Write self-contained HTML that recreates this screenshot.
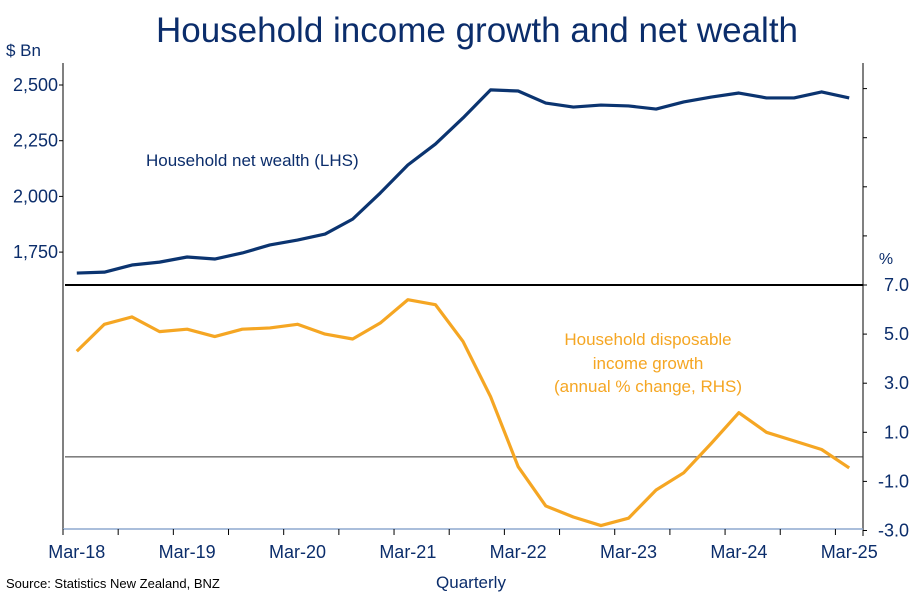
<!DOCTYPE html>
<html><head><meta charset="utf-8"><style>
body{margin:0;background:#fff;}
svg text{font-family:"Liberation Sans",sans-serif;}
</style></head><body>
<svg id="chart" width="915" height="597" viewBox="0 0 915 597">
<text x="477" y="42" text-anchor="middle" font-size="35" fill="#0b2d6b">Household income growth and net wealth</text>
<text x="6" y="56" font-size="17" fill="#0b2d6b">$ Bn</text>
<text x="886" y="264" text-anchor="middle" font-size="16" fill="#0b2d6b">%</text>
<g id="axes"></g>
<g id="marks"></g>
<text x="146" y="166" font-size="17" fill="#0b2d6b">Household net wealth (LHS)</text>
<g fill="#f5a623" font-size="17" text-anchor="middle">
<text x="648" y="345">Household disposable</text>
<text x="648" y="369">income growth</text>
<text x="648" y="392">(annual % change, RHS)</text>
</g>
<text x="6" y="588" font-size="13" fill="#000">Source: Statistics New Zealand, BNZ</text>
<text x="471" y="588" text-anchor="middle" font-size="17" fill="#0b2d6b">Quarterly</text>
</svg>
<script>
const quarters=["Mar-18","Jun-18","Sep-18","Dec-18","Mar-19","Jun-19","Sep-19","Dec-19","Mar-20","Jun-20","Sep-20","Dec-20","Mar-21","Jun-21","Sep-21","Dec-21","Mar-22","Jun-22","Sep-22","Dec-22","Mar-23","Jun-23","Sep-23","Dec-23","Mar-24","Jun-24","Sep-24","Dec-24","Mar-25"];
const wealth=[1656,1660,1692,1705,1728,1719,1746,1782,1804,1831,1898,2015,2141,2235,2352,2478,2473,2419,2401,2410,2406,2392,2424,2446,2464,2442,2442,2469,2442];
const income=[4.3,5.4,5.7,5.1,5.2,4.9,5.2,5.25,5.4,5.0,4.8,5.45,6.4,6.2,4.7,2.45,-0.4,-2.0,-2.45,-2.8,-2.5,-1.35,-0.65,0.55,1.8,1.0,0.65,0.3,-0.45];
const leftTicks=[1750,2000,2250,2500];
const rightTicks=[-3,-1,1,3,5,7];
const xLabels=["Mar-18","Mar-19","Mar-20","Mar-21","Mar-22","Mar-23","Mar-24","Mar-25"];

const NS="http://www.w3.org/2000/svg";
const X0=63,X1=863,N=quarters.length,bw=(X1-X0)/N;
const xq=i=>X0+(i+0.5)*bw;
const yL=v=>85+(2500-v)/250*55.7;
const yR=v=>285+(7-v)/2*49.1;
const axes=document.getElementById('axes'),marks=document.getElementById('marks');
function mk(tag,attrs,parent,txt){const e=document.createElementNS(NS,tag);for(const k in attrs)e.setAttribute(k,attrs[k]);if(txt!==undefined)e.textContent=txt;parent.appendChild(e);return e;}

let e;
e=mk('line',{x1:X0,y1:63,x2:X0,y2:530,stroke:'#000','stroke-width':1},axes);


e=mk('line',{x1:X1,y1:63,x2:X1,y2:536,stroke:'#000','stroke-width':1},axes);


e=mk('line',{x1:X0,y1:529,x2:X1,y2:529,stroke:'#8ea9cf','stroke-width':1.5},axes);


e=mk('line',{x1:65,y1:285,x2:X1,y2:285,stroke:'#000','stroke-width':2},axes);


e=mk('line',{x1:65,y1:yR(0),x2:X1,y2:yR(0),stroke:'#333','stroke-width':1},axes);



leftTicks.forEach(v=>{
  mk('line',{x1:X0-4,y1:yL(v),x2:X0,y2:yL(v),stroke:'#000'},axes);
  e=mk('text',{x:58,y:yL(v)+6,'text-anchor':'end','font-size':18,fill:'#0b2d6b'},axes,v.toLocaleString('en-US'));
  
  
});
for(let v=9;v<=15;v+=2){mk('line',{x1:X1,y1:yR(v),x2:X1+4,y2:yR(v),stroke:'#000'},axes);}
rightTicks.forEach(v=>{
  mk('line',{x1:X1,y1:yR(v),x2:X1+4,y2:yR(v),stroke:'#000'},axes);
  e=mk('text',{x:909,y:yR(v)+6,'text-anchor':'end','font-size':18,fill:'#0b2d6b'},axes,v.toFixed(1));
  
  
});
for(let i=0;i<=N;i+=2){mk('line',{x1:X0+i*bw,y1:529,x2:X0+i*bw,y2:535,stroke:'#000'},axes);}
xLabels.forEach(l=>{
  const i=quarters.indexOf(l);
  e=mk('text',{x:xq(i),y:558,'text-anchor':'middle','font-size':18,fill:'#0b2d6b'},axes,l);
  
  
});

e=mk('polyline',{points:wealth.map((v,i)=>xq(i)+','+yL(v)).join(' '),fill:'none',stroke:'#0b3470','stroke-width':3.2,'stroke-linejoin':'round'},marks);


e=mk('polyline',{points:income.map((v,i)=>xq(i)+','+yR(v)).join(' '),fill:'none',stroke:'#f5a623','stroke-width':3.2,'stroke-linejoin':'round'},marks);


</script>
</body></html>
